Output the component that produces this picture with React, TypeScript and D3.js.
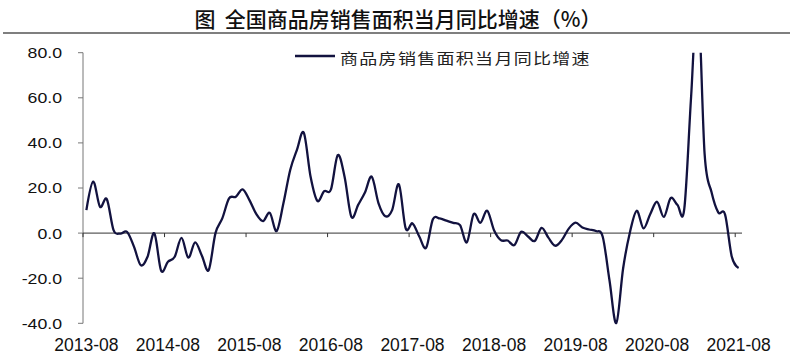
import React from "react";
import * as d3 from "d3";

// ---- data ----
const startYear = 2013;
const startMonth = 8; // August
const monthCount = 97; // 2013-08 .. 2021-08

const values: number[] = [
  // 2013-08 .. 2013-12
  10.2, 22.8, 11.7, 15.1, 1.3,
  // 2014
  -0.2, 0.5, -6, -14.2, -10.5, -0.1, -16.7, -12.7, -10.5, -2.1, -10.9, -4.1,
  // 2015
  -10, -16.4, 0, 6.5, 15.4, 16.1, 19.4, 14.6, 8.5, 5.3, 9, 0.9,
  // 2016
  13.2, 28.0, 37, 44.5, 25, 14.3, 18.6, 19.4, 34.6, 25, 7.2, 12.5,
  // 2017
  18, 25, 13.2, 7.5, 10.2, 21.6, 2.1, 4.3, -1.5, -6.5, 6.1, 6.5,
  // 2018
  5.5, 4.5, 3.5, -4.1, 8.4, 4.6, 9.9, 1.3, -3.1, -3.3, -5.3, 0.6,
  // 2019
  -1.5, -3.5, 2.3, -2, -5.6, -3, 2, 4.6, 2.5, 1.6, 0.9, -1.6,
  // 2020
  -21, -39.9, -15.7, 0.3, 9.9, 2.1, 8.5, 13.9, 7.2, 15.5, 12.5, 10.6,
  // 2021-01 .. 2021-08
  60, 105, 35, 18.3, 9.2, 8.3, -10.5, -15.5,
];

const yTicks: number[] = [-40, -20, 0, 20, 40, 60, 80];
const xTickLabels: string[] = [
  "2013-08", "2014-08", "2015-08", "2016-08", "2017-08",
  "2018-08", "2019-08", "2020-08", "2021-08",
];

const title = "图  全国商品房销售面积当月同比增速（%）";
const seriesName = "商品房销售面积当月同比增速";

const months: string[] = [];
for (let i = 0; i < monthCount; i++) {
  const m0 = startMonth - 1 + i;
  const y = startYear + Math.floor(m0 / 12);
  const m = (m0 % 12) + 1;
  months.push(`${y}-${String(m).padStart(2, "0")}`);
}

export default function App() {
  const W = 800;
  const H = 355;
  const left = 83;
  const right = 742;
  const top = 52.7;
  const bottom = 323.3;

  const x = d3.scaleBand<string>().domain(months).range([left, right]).paddingInner(0).paddingOuter(0);
  const xc = (m: string) => (x(m) as number) + x.bandwidth() / 2;
  const y = d3.scaleLinear().domain([-40, 80]).range([bottom, top]);

  const data = months.map((m, i) => ({ m, v: values[i] }));
  const line = d3
    .line<{ m: string; v: number }>()
    .x((d) => xc(d.m))
    .y((d) => y(d.v))
    .curve(d3.curveCardinal.tension(0));

  const lineColor = "#12123f";
  const sans = "'Liberation Sans', Arial, sans-serif";
  const cjk = "'Noto Sans CJK SC', sans-serif";

  return (
    <svg
      width={W}
      height={H}
      viewBox={`0 0 ${W} ${H}`}
      style={{ position: "absolute", left: 0, top: 0, background: "#fff" }}
    >
      <defs>
        <clipPath id="plotclip">
          <rect x={left - 2} y={top} width={right - left + 6} height={bottom - top + 2} />
        </clipPath>
      </defs>
      <rect x={0} y={0} width={W} height={H} fill="#fff" />

      {/* title */}
      <text
        x={398}
        y={27}
        textAnchor="middle"
        fontFamily={cjk}
        fontSize={21}
        fontWeight={500}
        fill="#111"
        style={{ whiteSpace: "pre" }}
      >
        {title}
      </text>
      <line x1={3} x2={790} y1={33} y2={33} stroke="#555" strokeWidth={1.6} />

      {/* y axis */}
      <line x1={left} x2={left} y1={top} y2={bottom} stroke="#777" strokeWidth={1} />
      {yTicks.map((t) => (
        <g key={t}>
          <line x1={left - 5} x2={left} y1={y(t)} y2={y(t)} stroke="#777" strokeWidth={1} />
          <text
            transform={`translate(62,${y(t)}) scale(1.18,1)`}
            textAnchor="end"
            dy="0.36em"
            fontFamily={sans}
            fontSize={15}
            fill="#111"
          >
            {t.toFixed(1)}
          </text>
        </g>
      ))}

      {/* x axis at zero */}
      <line x1={left} x2={right} y1={y(0)} y2={y(0)} stroke="#333" strokeWidth={1} />
      {xTickLabels.map((lab) => (
        <g key={lab}>
          <line
            x1={x(lab) as number}
            x2={x(lab) as number}
            y1={y(0)}
            y2={y(0) + 4}
            stroke="#333"
            strokeWidth={1}
          />
          <text
            x={xc(lab)}
            y={350.5}
            textAnchor="middle"
            fontFamily={sans}
            fontSize={17.5}
            fill="#111"
          >
            {lab}
          </text>
        </g>
      ))}

      {/* series */}
      <path
        d={line(data) || ""}
        fill="none"
        stroke={lineColor}
        strokeWidth={2.3}
        strokeLinejoin="round"
        clipPath="url(#plotclip)"
      />

      {/* legend */}
      <line x1={295} x2={335} y1={56} y2={56} stroke={lineColor} strokeWidth={2.5} />
      <text
        transform="translate(340,63.5) scale(1.2,1)"
        fontFamily={cjk}
        fontSize={15}
        letterSpacing={1.1}
        fill="#222"
      >
        {seriesName}
      </text>
    </svg>
  );
}
